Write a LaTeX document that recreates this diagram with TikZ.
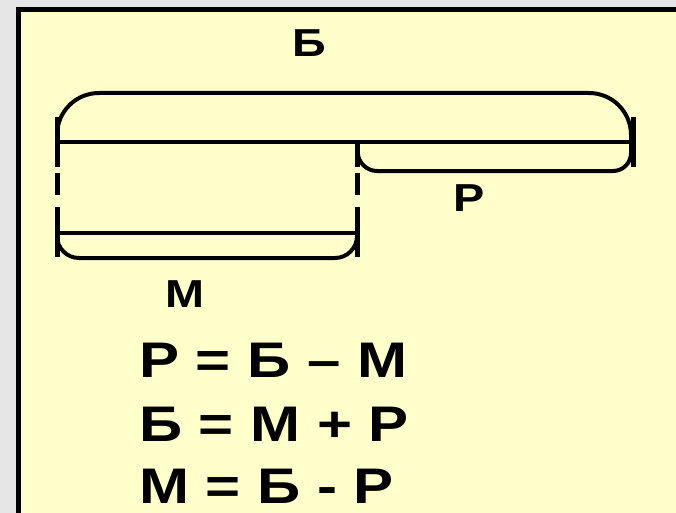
\documentclass[tikz,border=0pt]{standalone}
\usepackage{fontspec}
\setmainfont{Liberation Sans}
\usepackage{graphicx}
\usepackage{tikz}

\definecolor{paper}{HTML}{FFFFCC}
\definecolor{backgr}{HTML}{E6E6E6}
\newcommand{\wide}[1]{\scalebox{1.2}[1]{#1}}

\begin{document}
\begin{tikzpicture}[x=1pt, y=-1pt, line width=4pt,
  lbl/.style={inner sep=0pt, anchor=base, font=\fontsize{39}{39}\selectfont\bfseries},
  eqn/.style={inner sep=0pt, anchor=base west, font=\fontsize{50}{50}\selectfont\bfseries},
  tick/.style={line width=5pt},
  gap/.style={line width=5pt, dash pattern=on 22pt off 18pt, dash phase=34pt}]
  \useasboundingbox (0,0) rectangle (676,513);
  \clip (0,0) rectangle (676,513);
  \fill[backgr] (0,0) rectangle (676,513);
  \filldraw[fill=paper, draw=black, line width=5pt] (18.5,9.5) rectangle (700,540);
  \coordinate (bl) at (57,142);
  \coordinate (br) at (633,142);
  \coordinate (mid) at (357,142);
  \coordinate (ml) at (57,233);
  \coordinate (mr) at (357,233);
  \draw (bl) -- (br);
  \draw[rounded corners=42] (bl) -- (57,93) -- (631,93) -- (631,142);
  \draw[tick] (57,117) -- (57,167);
  \draw[tick] (633,117) -- (633,167);
  \draw[rounded corners=18] (mid) -- (359,171) -- (631,171) -- (631,142);
  \draw[tick] (mid) -- (357,167);
  \draw (ml) -- (mr);
  \draw[rounded corners=22] (ml) -- (57,258) -- (357,258) -- (mr);
  \draw[tick] (57,207) -- (57,257);
  \draw[tick] (357,207) -- (357,257);
  \draw[gap] (57,167) -- (57,207);
  \draw[gap] (357,167) -- (357,207);
  \node[lbl] (B) at (309,57) {\wide{Б}};
  \node[lbl] (R) at (469,211) {\wide{Р}};
  \node[lbl] (M) at (185,307) {\wide{М}};
  \node[eqn] (eq1) at (137,377) {\wide{Р = Б – М}};
  \node[eqn] (eq2) at (137,441) {\wide{Б = М + Р}};
  \node[eqn] (eq3) at (137,503) {\wide{М = Б - Р}};
\end{tikzpicture}
\end{document}
